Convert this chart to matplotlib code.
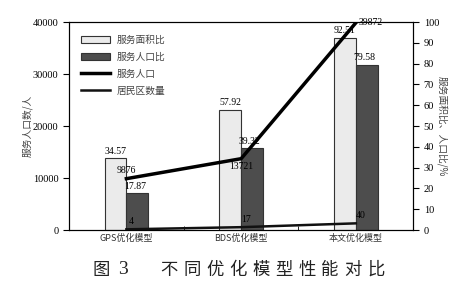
import matplotlib
matplotlib.use("Agg")
import matplotlib.pyplot as plt
import numpy as np

categories = ["GPS优化模型", "BDS优化模型", "本文优化模型"]
area_ratio = [34.57, 57.92, 92.51]
pop_ratio = [17.87, 39.32, 79.58]
service_pop = [9876, 13721, 39872]
residential = [4, 17, 40]

plt.rcParams['font.family'] = ['Liberation Serif', 'Noto Sans CJK SC']
cjk = ['Noto Sans CJK SC', 'DejaVu Sans']

fig = plt.figure(figsize=(4.77, 2.87), dpi=100)
ax = fig.add_axes([0.1447, 0.1986, 0.7216, 0.7244])
ax2 = ax.twinx()
ax3 = ax.twinx()
ax3.set_ylim(0, 1250)
ax3.axis('off')

x = np.arange(len(categories))
w = 0.19
ax2.bar(x - w / 2, area_ratio, w, color='#ebebeb', edgecolor='#333333', linewidth=0.8, label='服务面积比')
ax2.bar(x + w / 2, pop_ratio, w, color='#4d4d4d', edgecolor='#333333', linewidth=0.8, label='服务人口比')
l1, = ax.plot(x, service_pop, color='black', linewidth=2.5, label='服务人口', zorder=5)
l2, = ax3.plot(x, residential, color='#111111', linewidth=1.8, label='居民区数量', zorder=5)
ax.set_zorder(ax2.get_zorder() + 1)
ax.patch.set_visible(False)
ax3.set_zorder(ax.get_zorder() + 1)

ax.set_xlim(-0.5, 2.5)
ax.set_ylim(0, 40000)
ax2.set_ylim(0, 100)
ax.set_yticks([0, 10000, 20000, 30000, 40000])
ax2.set_yticks(range(0, 101, 10))
ax.set_xticks(x)
ax.set_xticklabels(categories, fontfamily=cjk, fontsize=6.5, color='#333333')
ax.set_xticks([0.5, 1.5], minor=True)
ax.tick_params(axis='x', which='major', length=0, pad=3)
ax.tick_params(axis='x', which='minor', direction='in', length=3)
ax.tick_params(axis='y', direction='out', length=4, labelsize=7.5)
ax2.tick_params(axis='y', direction='out', length=4, labelsize=7.5)

ax.set_ylabel('服务人口数/人', fontfamily=cjk, fontsize=7, color='#444444', labelpad=0)
ax2.set_ylabel('服务面积比、人口比/%', fontfamily=cjk, fontsize=7, color='#444444', rotation=-90, labelpad=6)

# annotations
for i in range(3):
    ax2.text(x[i] - w / 2, area_ratio[i] + 1.2, f"{area_ratio[i]:.2f}", ha='center', va='bottom', fontsize=7)
    ax2.text(x[i] + w / 2 - 0.02, pop_ratio[i] + 1.0, f"{pop_ratio[i]:.2f}", ha='center', va='bottom', fontsize=7)
ax.text(x[0], service_pop[0] + 700, f"{service_pop[0]}", ha='center', va='bottom', fontsize=7)
ax.text(x[1], service_pop[1] - 600, f"{service_pop[1]}", ha='center', va='top', fontsize=7)
ax.text(x[2] + 0.02, service_pop[2], f"{service_pop[2]}", ha='left', va='center', fontsize=7)
for i in range(3):
    ax3.text(x[i] + 0.04, residential[i] + 20, f"{residential[i]}", ha='center', va='bottom', fontsize=7)

handles = [plt.Rectangle((0, 0), 1, 1, fc='#ebebeb', ec='#333333', lw=0.8),
           plt.Rectangle((0, 0), 1, 1, fc='#4d4d4d', ec='#333333', lw=0.8), l1, l2]
labels = ['服务面积比', '服务人口比', '服务人口', '居民区数量']
leg = ax3.legend(handles, labels, loc='upper left', bbox_to_anchor=(0.01, 0.98), frameon=False,
                 prop={'family': cjk, 'size': 7}, labelspacing=0.7, handlelength=3.0, handletextpad=0.6)
for t in leg.get_texts():
    t.set_color('#444444')

# caption, characters spaced as in the original
cap_y = 1 - 270 / 287
fig.text(101 / 477, cap_y, '图', ha='center', va='center', fontfamily=cjk, fontsize=12.5, color='#222222')
fig.text(123 / 477, cap_y, '3', ha='center', va='center', fontfamily=['Liberation Serif'], fontsize=14, color='#222222')
title = '不同优化模型性能对比'
x0, pitch = 169, 23.0
for k, ch in enumerate(title):
    fig.text((x0 + k * pitch) / 477, cap_y, ch, ha='center', va='center', fontfamily=cjk, fontsize=12.5, color='#222222')

fig.savefig('out.png', dpi=100)
